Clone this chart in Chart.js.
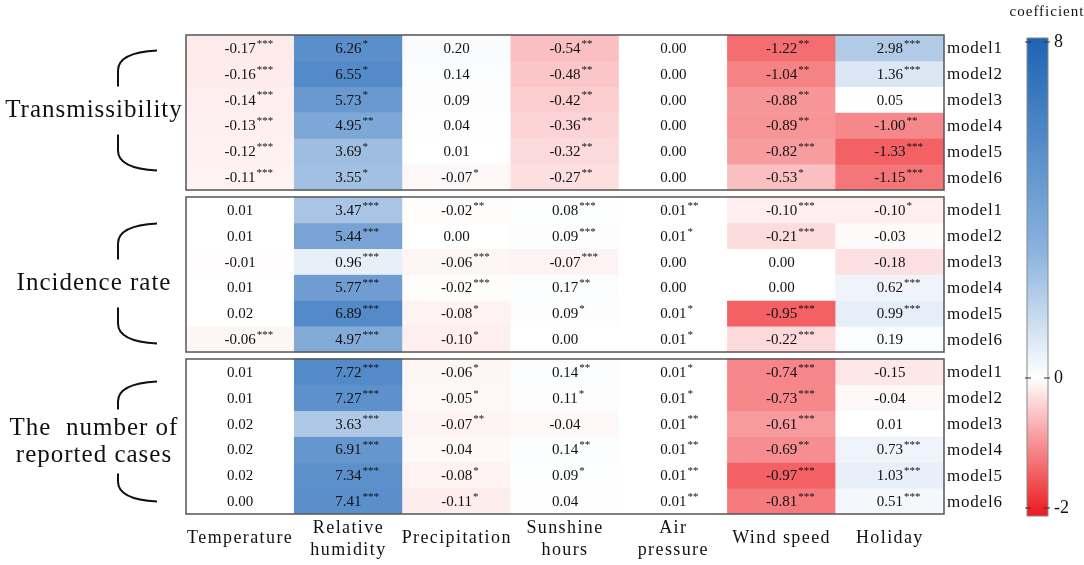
<!DOCTYPE html>
<html>
<head>
<meta charset="utf-8">
<script src="https://cdn.jsdelivr.net/npm/chart.js@4.4.1/dist/chart.umd.min.js"></script>
<style>
  html, body { margin: 0; padding: 0; background: #fff; }
  canvas { display: block; }
</style>
</head>
<body>
<canvas id="heat" width="1084" height="565"></canvas>
<script>
// column (factor) names
const factors = ['Temperature', ['Relative', 'humidity'], 'Precipitation', ['Sunshine', 'hours'], ['Air', 'pressure'], 'Wind speed', 'Holiday'];
const models = ['model1', 'model2', 'model3', 'model4', 'model5', 'model6'];
const groups = ['Transmissibility', 'Incidence rate', ['The  number of', 'reported cases']];

// coefficients, one row per model
const transVals = [
  [-0.17, 6.26, 0.20, -0.54, 0.00, -1.22, 2.98],
  [-0.16, 6.55, 0.14, -0.48, 0.00, -1.04, 1.36],
  [-0.14, 5.73, 0.09, -0.42, 0.00, -0.88, 0.05],
  [-0.13, 4.95, 0.04, -0.36, 0.00, -0.89, -1.00],
  [-0.12, 3.69, 0.01, -0.32, 0.00, -0.82, -1.33],
  [-0.11, 3.55, -0.07, -0.27, 0.00, -0.53, -1.15]
];
const transSig = [
  ['***', '*', '', '**', '', '**', '***'],
  ['***', '*', '', '**', '', '**', '***'],
  ['***', '*', '', '**', '', '**', ''],
  ['***', '**', '', '**', '', '**', '**'],
  ['***', '*', '', '**', '', '***', '***'],
  ['***', '*', '*', '**', '', '*', '***']
];
const incVals = [
  [0.01, 3.47, -0.02, 0.08, 0.01, -0.10, -0.10],
  [0.01, 5.44, 0.00, 0.09, 0.01, -0.21, -0.03],
  [-0.01, 0.96, -0.06, -0.07, 0.00, 0.00, -0.18],
  [0.01, 5.77, -0.02, 0.17, 0.00, 0.00, 0.62],
  [0.02, 6.89, -0.08, 0.09, 0.01, -0.95, 0.99],
  [-0.06, 4.97, -0.10, 0.00, 0.01, -0.22, 0.19]
];
const incSig = [
  ['', '***', '**', '***', '**', '***', '*'],
  ['', '***', '', '***', '*', '***', ''],
  ['', '***', '***', '***', '', '', ''],
  ['', '***', '***', '**', '', '', '***'],
  ['', '***', '*', '*', '*', '***', '***'],
  ['***', '***', '*', '', '*', '***', '']
];
const caseVals = [
  [0.01, 7.72, -0.06, 0.14, 0.01, -0.74, -0.15],
  [0.01, 7.27, -0.05, 0.11, 0.01, -0.73, -0.04],
  [0.02, 3.63, -0.07, -0.04, 0.01, -0.61, 0.01],
  [0.02, 6.91, -0.04, 0.14, 0.01, -0.69, 0.73],
  [0.02, 7.34, -0.08, 0.09, 0.01, -0.97, 1.03],
  [0.00, 7.41, -0.11, 0.04, 0.01, -0.81, 0.51]
];
const caseSig = [
  ['', '***', '*', '**', '*', '***', ''],
  ['', '***', '*', '*', '*', '***', ''],
  ['', '***', '**', '', '**', '***', ''],
  ['', '***', '', '**', '**', '**', '***'],
  ['', '***', '*', '*', '**', '***', '***'],
  ['', '***', '*', '', '**', '***', '***']
];
const colorTicks = [8, 0, -2];

const panels = [transVals, incVals, caseVals];
const panelSig = [transSig, incSig, caseSig];
const GAP = 0.27;           // gap between panels, in row units
const SERIF = '"Liberation Serif", "DejaVu Serif", serif';

const POS = [35, 105, 185];
const NEG = [238, 35, 40];
function mix(c, t) {
  const r = Math.round(255 + (c[0] - 255) * t);
  const g = Math.round(255 + (c[1] - 255) * t);
  const b = Math.round(255 + (c[2] - 255) * t);
  return `rgb(${r},${g},${b})`;
}
function cellColor(v, hi, lo) {
  if (v > 0) return mix(POS, 0.78 * v / hi);
  if (v < 0) return mix(NEG, 0.72 * v / lo);
  return '#fff';
}

function rowStart(p, r) { return p * (6 + GAP) + r; }

const datasets = [];
panels.forEach((vals, p) => {
  const flat = vals.flat();
  const hi = Math.max(...flat);
  const lo = Math.min(...flat);
  vals.forEach((row, r) => {
    datasets.push({
      data: row.map(() => [rowStart(p, r), rowStart(p, r) + 1]),
      backgroundColor: row.map(v => cellColor(v, hi, lo)),
      borderWidth: 0,
      grouped: false,
      barPercentage: 1,
      categoryPercentage: 1
    });
  });
});

const overlay = {
  id: 'overlay',
  afterDatasetsDraw(chart) {
    const ctx = chart.ctx;
    const xs = chart.scales.x, ys = chart.scales.y;
    const area = chart.chartArea;
    ctx.save();
    ctx.fillStyle = '#111';

    // cell numbers + stars
    panels.forEach((vals, p) => {
      vals.forEach((row, r) => {
        const y = ys.getPixelForValue(rowStart(p, r) + 0.5);
        row.forEach((v, c) => {
          const x = xs.getPixelForValue(c);
          const txt = v.toFixed(2);
          ctx.font = '15px ' + SERIF;
          ctx.textAlign = 'center';
          ctx.textBaseline = 'middle';
          ctx.fillText(txt, x, y + 1);
          const s = panelSig[p][r][c];
          if (s) {
            const w = ctx.measureText(txt).width;
            ctx.font = '11px ' + SERIF;
            ctx.textAlign = 'left';
            ctx.fillText(s, x + w / 2 + 1, y - 4);
          }
        });
      });
      // panel frame
      const top = ys.getPixelForValue(rowStart(p, 0));
      const bot = ys.getPixelForValue(rowStart(p, 6));
      ctx.strokeStyle = '#555';
      ctx.lineWidth = 1.5;
      ctx.strokeRect(area.left, top, area.right - area.left, bot - top);

      // model labels
      ctx.font = '17px ' + SERIF;
      ctx.letterSpacing = '0.8px';
      ctx.textAlign = 'left';
      ctx.textBaseline = 'middle';
      models.forEach((m, r) => {
        ctx.fillText(m, area.right + 3, ys.getPixelForValue(rowStart(p, r) + 0.5) + 1);
      });
      ctx.letterSpacing = '0px';

      // group label with bracket
      const g = groups[p];
      const lines = Array.isArray(g) ? g : [g];
      const cy = (top + bot) / 2 + [-2, 9, 5][p];
      ctx.font = '25px ' + SERIF;
      ctx.letterSpacing = '1px';
      ctx.textAlign = 'center';
      lines.forEach((t, i) => {
        ctx.fillText(t, 94, cy + (i - (lines.length - 1) / 2) * 27);
      });
      ctx.letterSpacing = '0px';
      const h = 60, gp = lines.length > 1 ? 32 : 24, bx = 118, ex = 157;
      ctx.strokeStyle = '#111';
      ctx.lineWidth = 2;
      ctx.beginPath();
      ctx.moveTo(ex, cy - h);
      ctx.quadraticCurveTo(bx, cy - h + 2, bx, cy - h + 20);
      ctx.lineTo(bx, cy - gp);
      ctx.moveTo(bx, cy + gp);
      ctx.lineTo(bx, cy + h - 20);
      ctx.quadraticCurveTo(bx, cy + h - 2, ex, cy + h);
      ctx.stroke();
    });

    // factor labels under the table
    ctx.font = '18px ' + SERIF;
    ctx.letterSpacing = '1.4px';
    ctx.textAlign = 'center';
    ctx.textBaseline = 'middle';
    factors.forEach((f, c) => {
      const x = xs.getPixelForValue(c);
      if (Array.isArray(f)) {
        ctx.fillText(f[0], x, 528);
        ctx.fillText(f[1], x, 550);
      } else {
        ctx.fillText(f, x, 538);
      }
    });
    ctx.letterSpacing = '0px';

    // colour bar
    const cbL = 1027, cbR = 1048, cbT = 38, cbB = 516;
    const yTop = 42, yZero = 378, yBot = 508;
    const cbY = v => v >= 0 ? yZero - v / 8 * (yZero - yTop) : yZero - v / 2 * (yBot - yZero);
    const grad = ctx.createLinearGradient(0, cbT, 0, cbB);
    grad.addColorStop(0, 'rgb(30,100,180)');
    grad.addColorStop(0.45, 'rgb(140,180,222)');
    grad.addColorStop((yZero - cbT) / (cbB - cbT), '#ffffff');
    grad.addColorStop(1, 'rgb(235,25,30)');
    ctx.fillStyle = grad;
    ctx.fillRect(cbL, cbT, cbR - cbL, cbB - cbT);
    ctx.strokeStyle = '#888';
    ctx.lineWidth = 1;
    ctx.strokeRect(cbL, cbT, cbR - cbL, cbB - cbT);
    ctx.fillStyle = '#111';
    ctx.strokeStyle = '#333';
    ctx.font = '18px ' + SERIF;
    ctx.textAlign = 'left';
    colorTicks.forEach(t => {
      const y = cbY(t);
      ctx.beginPath();
      ctx.moveTo(cbL - 2, y); ctx.lineTo(cbL + 4, y);
      ctx.moveTo(cbR - 4, y); ctx.lineTo(cbR + 2, y);
      ctx.stroke();
      ctx.fillText(String(t), cbR + 6, y);
    });
    ctx.font = '15px ' + SERIF;
    ctx.letterSpacing = '1px';
    ctx.textAlign = 'center';
    ctx.fillText('coefficient', 1047, 12);
    ctx.restore();
  }
};

new Chart(document.getElementById('heat'), {
  type: 'bar',
  data: { labels: factors.map((f, i) => i), datasets },
  options: {
    responsive: false,
    animation: false,
    layout: { padding: { left: 186, right: 140, top: 35, bottom: 51 } },
    scales: {
      x: { type: 'category', display: false },
      y: { type: 'linear', display: false, reverse: true, min: 0, max: 18 + 2 * GAP }
    },
    plugins: { legend: { display: false }, tooltip: { enabled: false } }
  },
  plugins: [overlay]
});
</script>
</body>
</html>
